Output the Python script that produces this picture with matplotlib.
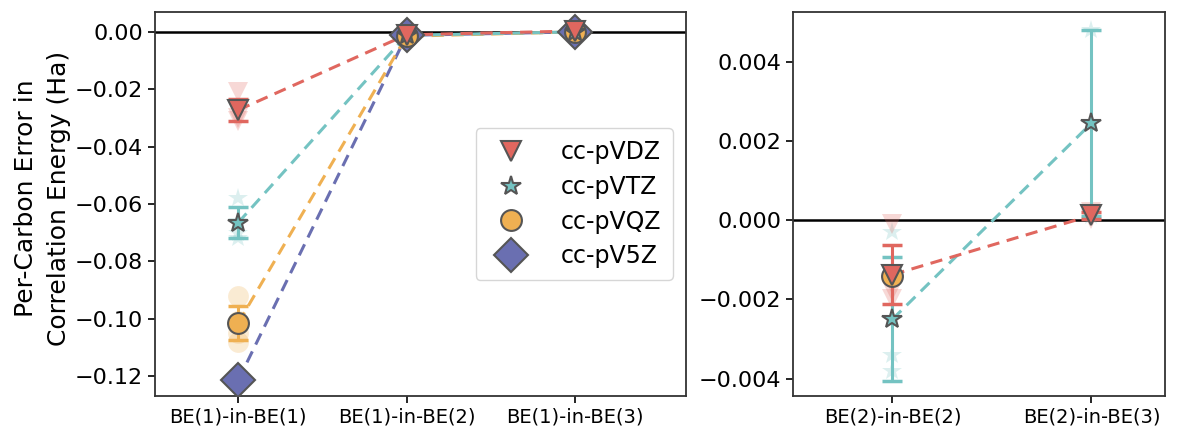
import numpy as np
import matplotlib
matplotlib.use("Agg")
import matplotlib.pyplot as plt
from matplotlib.ticker import FuncFormatter

plt.rcParams['font.family'] = ['DejaVu Sans']

# Fragment setups on the x axis of each panel
left_labels = ["BE(1)-in-BE(1)", "BE(1)-in-BE(2)", "BE(1)-in-BE(3)"]
right_labels = ["BE(2)-in-BE(2)", "BE(2)-in-BE(3)"]

basis_names = ["cc-pVDZ", "cc-pVTZ", "cc-pVQZ", "cc-pV5Z"]
basis_colors = ["#E0675F", "#74C3C2", "#EFB052", "#6A6FB1"]
basis_markers = ["v", "*", "o", "D"]
basis_sizes = [15, 15, 15, 17]

# Per-carbon correlation-energy errors (Ha), one list of molecules per setup
vdz_left = [[-0.021, -0.027, -0.030, -0.031], [-0.0010], [0.0003]]
vtz_left = [[-0.058, -0.066, -0.070, -0.072], [-0.0012], [0.0000]]
vqz_left = [[-0.092, -0.101, -0.105, -0.108], [-0.0015], [0.0000]]
v5z_left = [[-0.1215], [-0.0012], [0.0000]]

vdz_right = [[-0.0001, -0.0016, -0.0018, -0.0020], [0.00020, 0.00004]]
vtz_right = [[-0.0003, -0.0034, -0.0038], [0.0048, 0.0001]]
vqz_right = [[-0.0014]]

edge = "#555555"

fig = plt.figure(figsize=(11.82, 4.32), dpi=100)
ax1 = fig.add_axes([0.1311, 0.0833, 0.4492, 0.888])
ax2 = fig.add_axes([0.6709, 0.0833, 0.3147, 0.888])


def draw_series(ax, groups, color, marker, ms, label=None):
    xs = np.arange(len(groups))
    means = np.array([np.mean(g) for g in groups])
    stds = np.array([np.std(g) for g in groups])
    # individual molecules
    for x, g in zip(xs, groups):
        if len(g) > 1:
            ax.plot([x] * len(g), g, linestyle="none", marker=marker, ms=ms,
                    color=color, alpha=0.25, markeredgewidth=0, zorder=2)
    ax.plot(xs, means, linestyle=(0, (4, 2.5)), color=color, lw=2.2, zorder=3)
    ax.errorbar(xs, means, yerr=stds, fmt="none", ecolor=color, elinewidth=2.2,
                capsize=7, capthick=2.5, zorder=4)
    ax.plot(xs, means, linestyle="none", marker=marker, ms=ms, color=color,
            markeredgecolor=edge, markeredgewidth=1.5, zorder=5, label=label)


left_sets = [vdz_left, vtz_left, vqz_left, v5z_left]
# draw coarse basis on top
for i in reversed(range(4)):
    draw_series(ax1, left_sets[i], basis_colors[i], basis_markers[i],
                basis_sizes[i], label=basis_names[i])

right_sets = [vdz_right, vtz_right, vqz_right]
for i in reversed(range(3)):
    draw_series(ax2, right_sets[i], basis_colors[i], basis_markers[i],
                basis_sizes[i])


def minus_fmt(fmt):
    return FuncFormatter(lambda v, p: (fmt % v).replace("-", "\u2212"))


for ax in (ax1, ax2):
    ax.axhline(0, color="black", lw=1.8, zorder=1)
    for s in ax.spines.values():
        s.set_color("#333333")
        s.set_linewidth(1.3)
    ax.tick_params(axis="y", labelsize=16, length=5, width=1.2)
    ax.tick_params(axis="x", labelsize=14, length=5, width=1.2)

ax1.set_xticks(range(3))
ax1.set_xticklabels(left_labels)
ax1.set_xlim(-0.495, 2.66)
ax1.set_ylim(-0.127, 0.0068)
ax1.set_yticks(np.arange(-0.12, 0.001, 0.02))
ax1.yaxis.set_major_formatter(minus_fmt("%.2f"))
ax1.set_ylabel("Per-Carbon Error in\nCorrelation Energy (Ha)", fontsize=18,
               linespacing=1.5)
ax1.yaxis.set_label_coords(-0.158, 0.515)

ax2.set_xticks(range(2))
ax2.set_xticklabels(right_labels)
ax2.set_xlim(-0.5, 1.37)
ax2.set_ylim(-0.00444, 0.00525)
ax2.set_yticks([-0.004, -0.002, 0.0, 0.002, 0.004])
ax2.yaxis.set_major_formatter(minus_fmt("%.3f"))

handles, labels = ax1.get_legend_handles_labels()
order = [labels.index(n) for n in basis_names]
leg = ax1.legend([handles[k] for k in order], [labels[k] for k in order],
                 loc="center right", bbox_to_anchor=(0.998, 0.5), fontsize=17,
                 markerscale=1.0, handletextpad=1.1, labelspacing=0.45,
                 borderpad=0.5, frameon=True, fancybox=True)
leg.get_frame().set_edgecolor("#cccccc")

fig.savefig("out.png", dpi=100)
